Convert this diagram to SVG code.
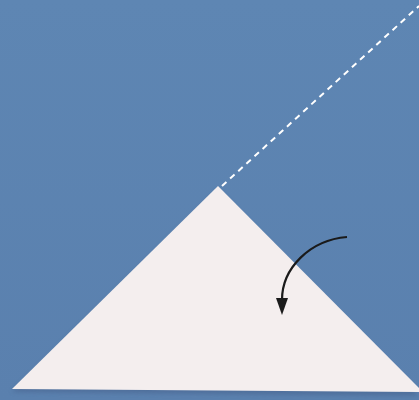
<svg xmlns="http://www.w3.org/2000/svg" width="419" height="400" viewBox="0 0 419 400">
<defs>
<linearGradient id="bg" x1="0" y1="0" x2="0" y2="1">
<stop offset="0" stop-color="#5e86b3"/>
<stop offset="1" stop-color="#5a80ae"/>
</linearGradient>
<marker id="ah" viewBox="0 0 12 16" refX="6" refY="15" markerWidth="12" markerHeight="16" markerUnits="userSpaceOnUse" orient="auto">
<path d="M0,0 L12,0 L6,16 Z" fill="#1a1a1a" transform="rotate(0)"/>
</marker>
<filter id="blur" x="-5%" y="-5%" width="110%" height="110%"><feGaussianBlur stdDeviation="2"/></filter>
</defs>
<style>
.dash{stroke:#ffffff;stroke-width:2;stroke-dasharray:6,5;fill:none}
.arrow{stroke:#1a1a1a;stroke-width:2.2;fill:none}
</style>
<rect width="419" height="400" fill="url(#bg)"/>
<g id="paper">
<polygon points="218,190 12,392 419,396" fill="#4a6590" opacity="0.6" filter="url(#blur)"/>
<polygon points="218,186 12,389 419,392 419,388" fill="#f4eeee"/>
</g>
<g id="connectors">
<line class="dash" x1="222" y1="186" x2="419" y2="6"/>
<path class="arrow" d="M347,237 C310,240 282,268 282,300"/>
<polygon points="276,298 288,298 282,315" fill="#1a1a1a"/>
</g>
</svg>
